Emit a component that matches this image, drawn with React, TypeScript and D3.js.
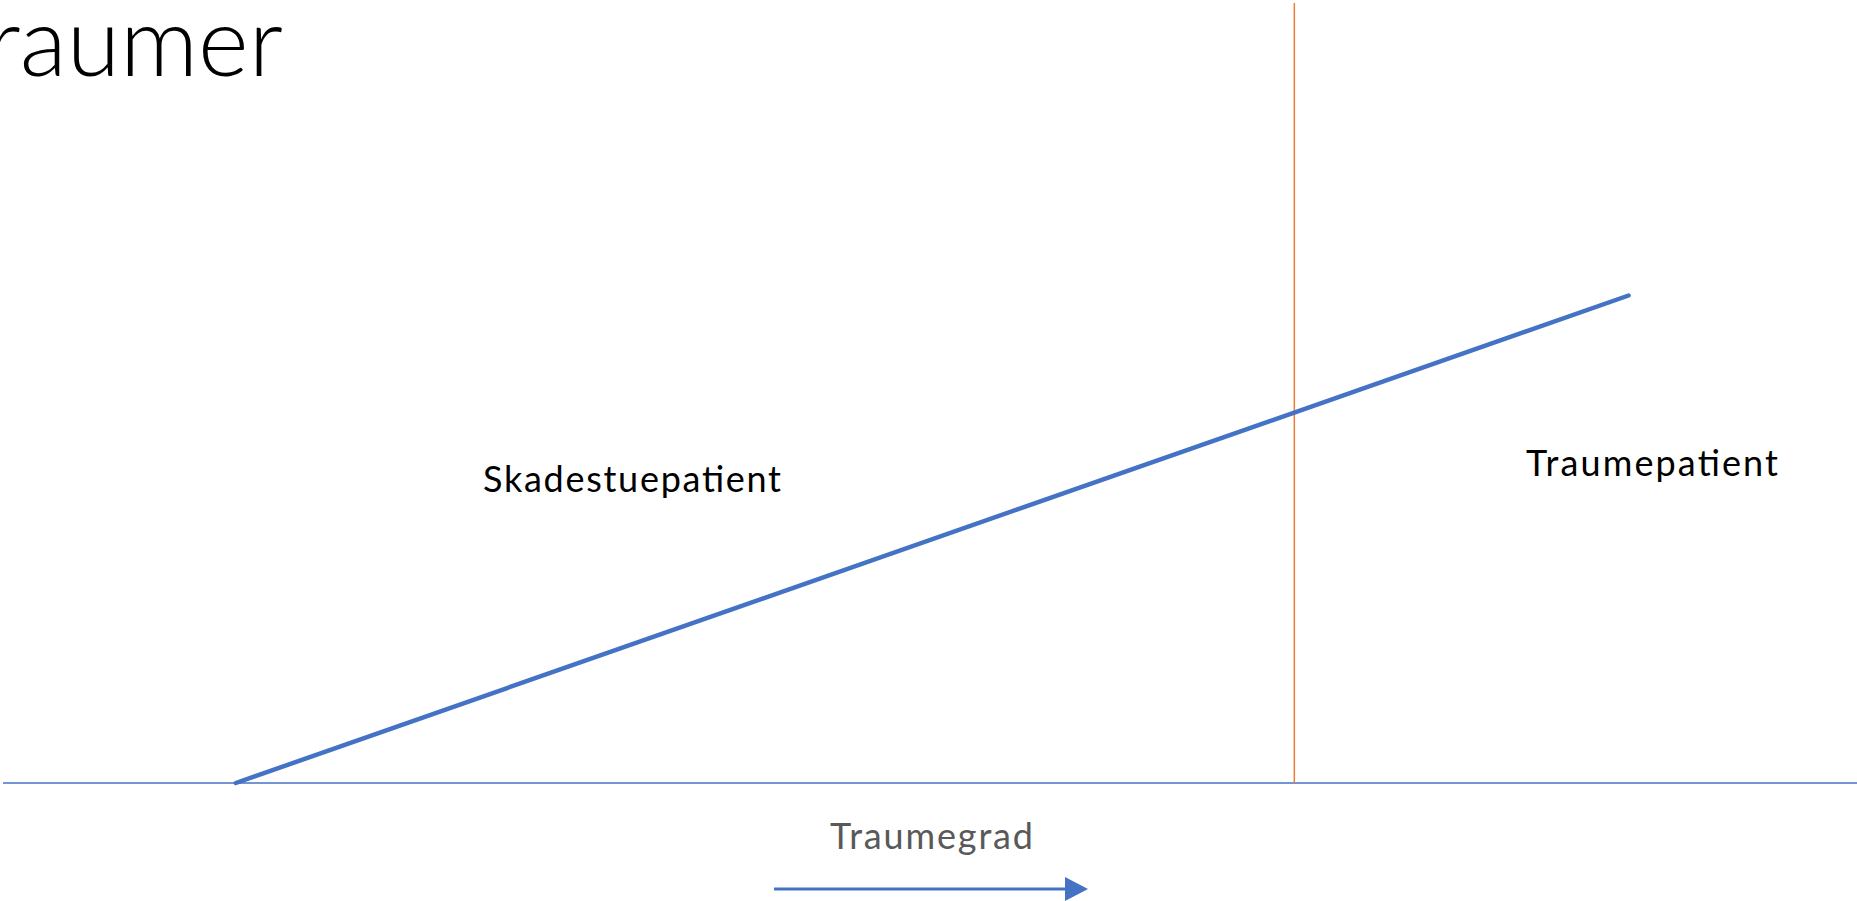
import * as d3 from "d3";
import React from "react";

// chart content
const titleText = "Traumer";
const axisTitle = "Traumegrad";
const regionLabels = ["Skadestuepatient", "Traumepatient"];

// trauma grade (x) vs severity (y) for the rising line
const lineGrades = [12.7, 87.7];
const lineSeverity = [0, 100];

// threshold grade where a patient becomes a trauma patient
const thresholdGrade = 69.7;
const axisExtent = [0.16, 100];

const W = 1857;
const H = 901;
const BLUE = "#4472C4";
const ORANGE = "#ED7D31";
const FONT = "Lato, 'Open Sans', sans-serif";

const App = () => {
  const x = d3.scaleLinear().domain([0, 100]).range([0, W]);
  const y = d3.scaleLinear().domain([0, 160]).range([783, 3]);

  const points = lineGrades.map((g, i) => ({ g, v: lineSeverity[i] }));
  const line = d3
    .line<{ g: number; v: number }>()
    .x((d) => x(d.g))
    .y((d) => y(d.v));

  // label positions (layout only)
  const labelPos = [
    { x: 483, y: 492, w: 298 },
    { x: 1526, y: 476, w: 252 },
  ];

  const arrowY = 889;
  const arrowX0 = 774;
  const arrowTip = 1088;

  return (
    <svg
      width={W}
      height={H}
      style={{ position: "absolute", left: 0, top: 0, display: "block", background: "#fff" }}
    >
      {/* title runs off the left edge, like the slide */}
      <text x={283} y={76} textAnchor="end" fontFamily={FONT} fontWeight={300} fontSize={97} fill="#000">
        {titleText}
      </text>

      {/* baseline axis */}
      <line
        x1={x(axisExtent[0])}
        x2={x(axisExtent[1])}
        y1={y(0)}
        y2={y(0)}
        stroke={BLUE}
        strokeWidth={1.5}
      />

      {/* threshold */}
      <line
        x1={x(thresholdGrade)}
        x2={x(thresholdGrade)}
        y1={y(160)}
        y2={y(0)}
        stroke={ORANGE}
        strokeWidth={1.5}
      />

      <path d={line(points) || ""} fill="none" stroke={BLUE} strokeWidth={4.5} strokeLinecap="round" />

      {regionLabels.map((t, i) => (
        <text
          key={t}
          x={labelPos[i].x}
          y={labelPos[i].y}
          fontFamily={FONT}
          fontSize={36}
          textLength={labelPos[i].w}
          lengthAdjust="spacing"
          fill="#000"
        >
          {t}
        </text>
      ))}

      <text
        x={830}
        y={849}
        fontFamily={FONT}
        fontSize={36}
        textLength={203}
        lengthAdjust="spacing"
        fill="#595959"
      >
        {axisTitle}
      </text>

      {/* direction arrow */}
      <line x1={arrowX0} x2={arrowTip - 22} y1={arrowY} y2={arrowY} stroke={BLUE} strokeWidth={3} />
      <path
        d={`M${arrowTip - 23},${arrowY - 12} L${arrowTip},${arrowY} L${arrowTip - 23},${arrowY + 12} Z`}
        fill={BLUE}
      />
    </svg>
  );
};

export default App;
